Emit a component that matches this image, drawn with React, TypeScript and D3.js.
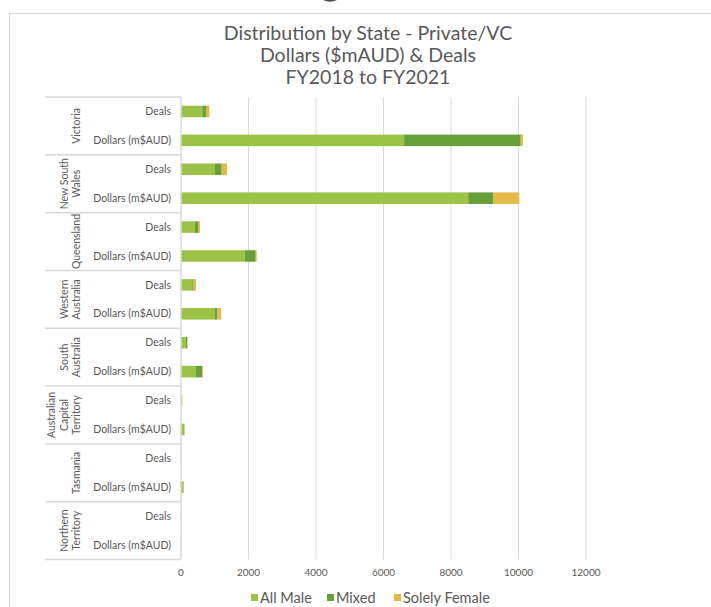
import React from "react";
import * as d3 from "d3";

const states = [
  ["Victoria"],
  ["New South", "Wales"],
  ["Queensland"],
  ["Western", "Australia"],
  ["South", "Australia"],
  ["Australian", "Capital", "Territory"],
  ["Tasmania"],
  ["Northern", "Territory"],
];
const measures = ["Deals", "Dollars (m$AUD)"];
const seriesNames = ["All Male", "Mixed", "Solely Female"];
const seriesColors = ["#9BC348", "#67A03B", "#E3BA48"];

// order: for each state: Deals, Dollars
const allMale = [630, 6610, 1007, 8510, 415, 1887, 335, 1007, 148, 444, 15, 95, 8, 75, 3, 10];
const mixed = [110, 3455, 198, 745, 89, 326, 41, 69, 39, 187, 3, 5, 2, 5, 1, 3];
const solelyFemale = [100, 65, 158, 770, 59, 30, 68, 109, 5, 21, 22, 10, 2, 5, 1, 3];
const xTicks = [0, 2000, 4000, 6000, 8000, 10000, 12000];

const W = 711;
const H = 607;
const top = 97;
const bottom = 559.5;
const x0 = 181;
const x1 = 586;
const labelLeft = 45;
const textColor = "#595959";
const gridColor = "#D9D9D9";
const font = "Lato, 'Open Sans', sans-serif";

export default function App() {
  const rows = states.flatMap((s, i) => measures.map((m) => `${i}|${m}`));
  const y = d3.scaleBand<string>().domain(rows).range([top, bottom]).paddingInner(0.6).paddingOuter(0.3);
  const x = d3.scaleLinear().domain([0, 12000]).range([x0, x1]);
  const data = rows.map((r, i) => ({ key: r, "All Male": allMale[i], Mixed: mixed[i], "Solely Female": solelyFemale[i] }));
  const stacked = d3.stack<any>().keys(seriesNames)(data);
  const step = y.step();
  const groupH = step * 2;

  return (
    <svg width={W} height={H} style={{ position: "absolute", left: 0, top: 0, fontFamily: font }}>
      <rect x={0} y={0} width={W} height={H} fill="#fff" />
      <path d="M323,0 Q330,3.5 337,0 Z" fill="#505050" />
      <rect x={9.5} y={13.5} width={740} height={640} fill="#fff" stroke={gridColor} strokeWidth={1} />
      <g fill={textColor} textAnchor="middle" fontSize={19.5}>
        <text x={368} y={40}>Distribution by State - Private/VC</text>
        <text x={368} y={62}>Dollars ($mAUD) &amp; Deals</text>
        <text x={368} y={84}>FY2018 to FY2021</text>
      </g>
      {xTicks.slice(1).map((t) => (
        <line key={t} x1={x(t)} x2={x(t)} y1={top} y2={bottom} stroke={gridColor} strokeWidth={1} />
      ))}
      {stacked.map((s, si) => (
        <g key={s.key} fill={seriesColors[si]}>
          {s.map((d: any, i: number) => (
            <rect key={i} x={x(d[0])} y={y(rows[i])} width={Math.max(0, x(d[1]) - x(d[0]))} height={y.bandwidth()} />
          ))}
        </g>
      ))}
      <line x1={x0} x2={x0} y1={top} y2={bottom} stroke={gridColor} strokeWidth={1.5} />
      {states.map((s, i) => (
        <line key={i} x1={labelLeft} x2={x0} y1={top + i * groupH} y2={top + i * groupH} stroke={gridColor} strokeWidth={1.5} />
      ))}
      <line x1={labelLeft} x2={x0} y1={bottom} y2={bottom} stroke={gridColor} strokeWidth={1.5} />
      <g fill={textColor} fontSize={10.5}>
        {rows.map((r) => (
          <text key={r} x={171} y={(y(r) as number) + y.bandwidth() / 2} dy="0.35em" textAnchor="end">
            {r.split("|")[1]}
          </text>
        ))}
        {states.map((s, i) => {
          const cy = top + i * groupH + groupH / 2;
          return (
            <g key={i} transform={`translate(${80},${cy}) rotate(-90)`}>
              {s.map((line, li) => (
                <text key={li} x={0} y={-(s.length - 1 - li) * 12.3} textAnchor="middle">
                  {line}
                </text>
              ))}
            </g>
          );
        })}
      </g>
      <g fill={textColor} fontSize={10}>
        {xTicks.map((t) => (
          <text key={t} x={x(t)} y={576} textAnchor="middle">{t}</text>
        ))}
      </g>
      <g fontSize={14.5} fill={textColor}>
        {seriesNames.map((n, i) => {
          const lx = [251, 327, 394][i];
          return (
            <g key={n}>
              <rect x={lx} y={594} width={7} height={7} fill={seriesColors[i]} />
              <text x={lx + 9} y={603}>{n}</text>
            </g>
          );
        })}
      </g>
    </svg>
  );
}
